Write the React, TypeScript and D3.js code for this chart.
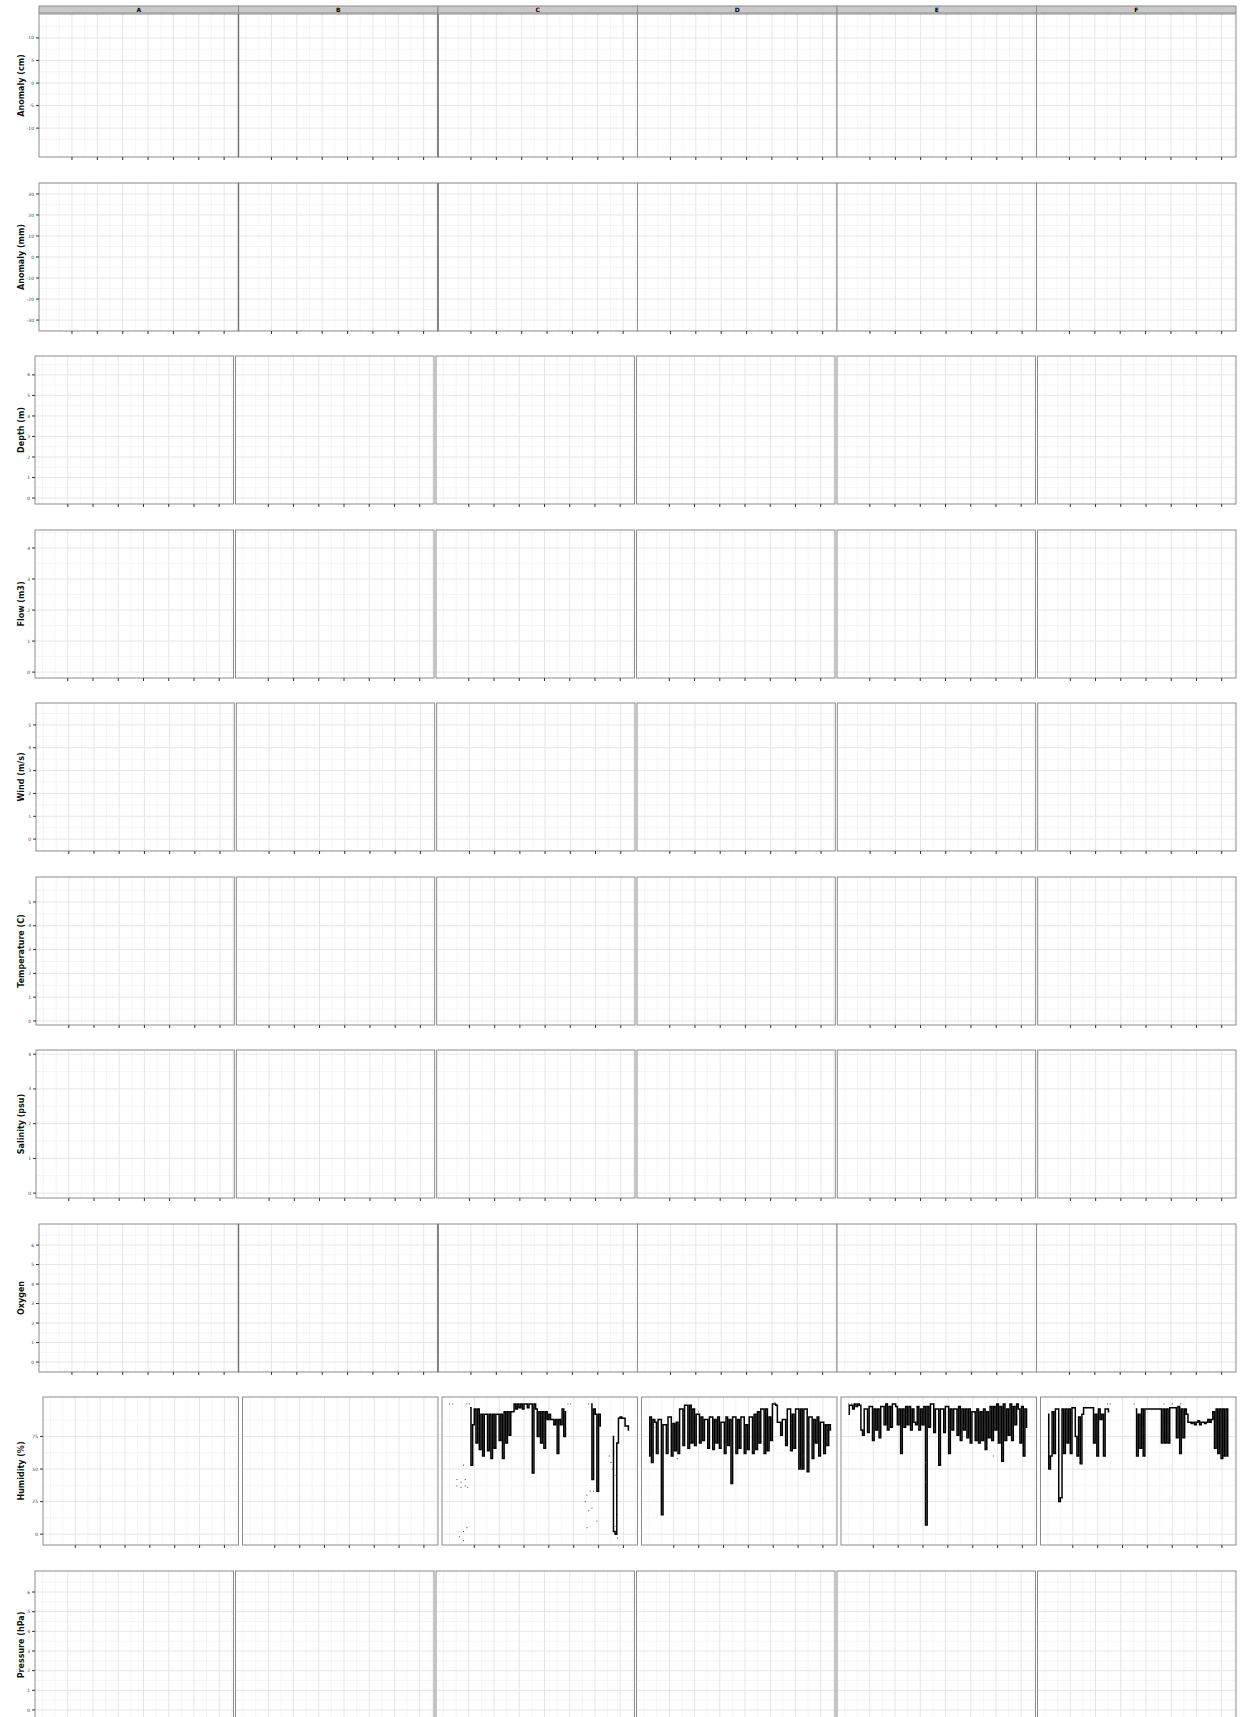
import React from "react";
import * as d3 from "d3";

// facet strip labels (top row only)
const facets = ["A", "B", "C", "D", "E", "F"];

// y titles, one per row
const rowTitles = [
  "Anomaly (cm)",
  "Anomaly (mm)",
  "Depth (m)",
  "Flow (m3)",
  "Wind (m/s)",
  "Temperature (C)",
  "Salinity (psu)",
  "Oxygen",
  "Humidity (%)",
  "Pressure (hPa)",
];

// y tick values per row
const yTicks = [
  [-10, -5, 0, 5, 10],
  [-30, -20, -10, 0, 10, 20, 30],
  [0, 1, 2, 3, 4, 5, 6],
  [0, 1, 2, 3, 4],
  [0, 1, 2, 3, 4, 5],
  [0, 1, 2, 3, 4, 5],
  [0, 1, 2, 3, 4],
  [0, 1, 2, 3, 4, 5, 6],
  [0, 25, 50, 75],
  [0, 1, 2, 3, 4, 5, 6],
];
const yDomains = [
  [-16.4, 15.3],
  [-35.2, 35.2],
  [-0.29, 6.92],
  [-0.19, 4.58],
  [-0.52, 5.96],
  [-0.17, 6.05],
  [-0.14, 4.12],
  [-0.51, 7.08],
  [-8.3, 105.3],
  [-0.46, 7.07],
];

// x axis (days)
const xDomain = [-9, 227];
const xTicks = [30, 60, 90, 120, 150, 180, 210];
const xMinor = [0, 15, 45, 75, 105, 135, 165, 195, 225];

// humidity series, row 9, columns C..F (every 2 days, null = missing)
const humC_start = 25;
const humC = [
  97, 53, 84, 96, 70, 96, 65, 92, 60, 92,
  92, 64, 92, 58, 92, 66, 92, 92, 72, 92,
  58, 94, 70, 94, 76, 94, 94, 100, 96, 100,
  97, 100, 96, 100, 100, 97, 100, 100, 47, 100,
  96, 75, 94, 70, 94, 66, 94, 88, 92, 88,
  88, 84, 88, 62, 88, 84, 96, 75, 94,
  null, null, null, null, null, null, null, null, null, null, null, null, null, null,
  100, 42, 96, 92, 33, 92, 83,
  null, null, null, null, null, null,
  75, 2, 0, 70, 89, 90, 89, 89, 83, 83, 80,
];
const humC_dots = [
  [0, 100], [4, 100], [21, 100], [24, 100],
  [9, 42], [14, 40], [19, 42], [9, 37], [14, 36], [19, 37], [22, 36], [17, 53],
  [12, -2], [17, 2], [21, 5], [17, -5],
  [143, 100], [146, 100], [168, 100],
  [164, 25], [166, 30], [170, 33], [174, 33], [172, 20], [168, 18], [166, 5], [178, 10],
  [193, 60], [195, 55], [197, 50], [201, 45], [203, 30], [203, 15], [201, 6], [203, -3],
];

const humD_start = 0;
const humD = [
  60, 90, 55, 88, 86, 62, 88, 88, 15, 84,
  84, 62, 90, 90, 60, 85, 64, 86, 62, 96,
  96, 68, 99, 99, 66, 99, 70, 96, 68, 92,
  92, 70, 90, 72, 88, 88, 66, 90, 90, 65,
  88, 70, 90, 66, 86, 86, 62, 90, 68, 88,
  39, 90, 90, 62, 88, 66, 90, 90, 62, 84,
  65, 90, 90, 62, 92, 65, 94, 70, 96, 96,
  62, 96, 64, 90, 72, 100, 100, 99, 86, 86,
  76, 88, 88, 68, 96, 96, 64, 92, 66, 96,
  96, 50, 96, 50, 96, 96, 48, 90, 90, 58,
  88, 70, 90, 60, 86, 86, 62, 84, 68, 84,
  80,
];
const humD_dots = [[6, 82], [34, 58], [60, 94], [152, 101], [186, 60]];

const humE_start = 0;
const humE = [
  92, 99, 99, 96, 100, 98, 100, 99, 80, 76,
  96, 96, 78, 98, 98, 72, 96, 80, 96, 74,
  98, 98, 84, 100, 80, 98, 82, 100, 100, 98,
  84, 96, 62, 96, 82, 98, 84, 98, 80, 96,
  86, 84, 98, 80, 96, 84, 98, 7, 98, 82,
  100, 100, 78, 96, 96, 53, 96, 96, 78, 98,
  98, 62, 96, 80, 96, 96, 76, 98, 72, 96,
  80, 96, 74, 96, 70, 94, 94, 72, 96, 70,
  94, 72, 96, 65, 94, 74, 98, 72, 98, 80,
  100, 70, 98, 56, 100, 72, 96, 76, 100, 72,
  98, 84, 100, 96, 70, 98, 60, 96, 82,
];
const humE_dots = [
  [0, 100], [4, 100], [9, 99], [70, 91], [93, 55], [93, 40], [93, 25], [175, 60],
];

const humF_start = 0;
const humF = [
  92, 50, 60, 94, 62, 96, 96, 25, 28, 96,
  62, 96, 70, 96, 62, 97, 97, 75, 60, 90,
  54, 92, 97, 97, 97, 97, 97, 97, 70, 92,
  60, 96, 88, 92, 60, 96, 96, 94,
  null, null, null, null, null, null, null, null, null, null, null, null, null, null, null,
  96, 60, 92, 66, 96, 60, 96, 96, 96, 96,
  96, 96, 96, 96, 96, 96, 70, 96, 70, 96,
  70, 97, 97, 97, 97, 74, 98, 62, 96, 74,
  96, 92, 86, 86, 85, 86, 84, 86, 87, 84,
  86, 86, 85, 86, 88, 86, 88, 94, 66, 96,
  62, 96, 58, 96, 60, 96, 60,
];
const humF_dots = [
  [38, 62], [38, 58], [38, 55], [72, 100], [75, 100], [104, 100],
  [140, 100], [150, 100], [160, 100],
];

const W = 1246;
const H = 1717;
const RIGHT = 1236;
const rowTop = [14, 183, 356, 530, 703, 877, 1050, 1224, 1397, 1571];
const rowBottom = [157, 331, 504, 678, 851, 1025, 1198, 1372, 1545, 1719];
const rowLeft = [39, 39, 35, 35, 36, 36, 36, 39, 43, 35];
const rowGap = [0, 0, 2, 2, 2, 2, 2, 0, 4, 2];

type Series = { start: number; values: (number | null)[]; dots: number[][] };
const dataRow = 8;
const dataByCol: Record<number, Series> = {
  2: { start: humC_start, values: humC, dots: humC_dots },
  3: { start: humD_start, values: humD, dots: humD_dots },
  4: { start: humE_start, values: humE, dots: humE_dots },
  5: { start: humF_start, values: humF, dots: humF_dots },
};

function Panel({ row, col }: { row: number; col: number }) {
  const gap = rowGap[row];
  const left = rowLeft[row];
  const pw = (RIGHT - left - 5 * gap) / 6;
  const x0 = left + col * (pw + gap);
  const x1 = x0 + pw;
  const top = rowTop[row];
  const bottom = rowBottom[row];

  const x = d3.scaleLinear().domain(xDomain).range([x0, x1]);
  const y = d3.scaleLinear().domain(yDomains[row]).range([bottom, top]);

  const ticks = yTicks[row];
  const step = ticks[1] - ticks[0];
  const yMinor = [ticks[0] - step / 2, ...ticks.map((t) => t + step / 2)].filter(
    (v) => v > yDomains[row][0] && v < yDomains[row][1]
  );

  const s = row === dataRow ? dataByCol[col] : undefined;
  const line = d3
    .line<number | null>()
    .defined((d) => d != null)
    .x((_, i) => x((s ? s.start : 0) + i * 2))
    .y((d) => y(d as number))
    .curve(d3.curveStep);

  const darkEdge = (row <= 1 || row === 7) && col >= 1 && col <= 2;

  return (
    <g>
      <rect x={x0} y={top} width={pw} height={bottom - top} fill="#fff" />
      {xMinor.map((v) => (
        <line key={"xm" + v} x1={x(v)} x2={x(v)} y1={top} y2={bottom} stroke="#F3F3F3" strokeWidth={0.8} />
      ))}
      {yMinor.map((v) => (
        <line key={"ym" + v} x1={x0} x2={x1} y1={y(v)} y2={y(v)} stroke="#F3F3F3" strokeWidth={0.8} />
      ))}
      {xTicks.map((v) => (
        <line key={"xg" + v} x1={x(v)} x2={x(v)} y1={top} y2={bottom} stroke="#E6E6E6" strokeWidth={1} />
      ))}
      {ticks.map((v) => (
        <line key={"yg" + v} x1={x0} x2={x1} y1={y(v)} y2={y(v)} stroke="#E6E6E6" strokeWidth={1} />
      ))}
      {s && (
        <g>
          <path d={line(s.values) || ""} fill="none" stroke="#000" strokeWidth={1.5} />
          {s.dots.map((d, i) => (
            <rect key={i} x={x(d[0]) - 0.5} y={y(d[1]) - 0.5} width={1} height={1} fill="#444" />
          ))}
        </g>
      )}
      <rect x={x0} y={top} width={pw} height={bottom - top} fill="none" stroke="#8C8C8C" strokeWidth={1} />
      {darkEdge && <line x1={x0} x2={x0} y1={top} y2={bottom} stroke="#6E6E6E" strokeWidth={1.4} />}
      {xTicks.map((v) => (
        <line key={"xt" + v} x1={x(v)} x2={x(v)} y1={bottom} y2={bottom + 3} stroke="#333" strokeWidth={1} />
      ))}
      {col === 0 &&
        ticks.map((v) => (
          <g key={"yt" + v}>
            <line x1={x0 - 3} x2={x0} y1={y(v)} y2={y(v)} stroke="#333" strokeWidth={1} />
            <text x={x0 - 5} y={y(v)} dy="0.35em" textAnchor="end" fontSize={4.5} fill="#444" fontFamily="DejaVu Sans">
              {v}
            </text>
          </g>
        ))}
      {row === 0 && (
        <g>
          <rect x={x0} y={6} width={pw} height={7} fill="#C9C9C9" stroke="#8C8C8C" strokeWidth={1} />
          <text x={(x0 + x1) / 2} y={9.5} dy="0.35em" textAnchor="middle" fontSize={6} fontWeight="bold" fill="#000" fontFamily="DejaVu Sans">
            {facets[col]}
          </text>
        </g>
      )}
    </g>
  );
}

export default function App() {
  return (
    <svg width={W} height={H} style={{ position: "absolute", left: 0, top: 0, background: "#fff" }}>
      <rect width={W} height={H} fill="#fff" />
      {rowTop.map((t, r) => (
        <g key={r}>
          {facets.map((_, c) => (
            <Panel key={c} row={r} col={c} />
          ))}
          <text
            transform={`translate(21,${(t + rowBottom[r]) / 2}) rotate(-90)`}
            textAnchor="middle"
            dy="0.35em"
            fontSize={8}
            fontWeight="bold"
            fill="#111"
            fontFamily="DejaVu Sans"
          >
            {rowTitles[r]}
          </text>
        </g>
      ))}
    </svg>
  );
}
